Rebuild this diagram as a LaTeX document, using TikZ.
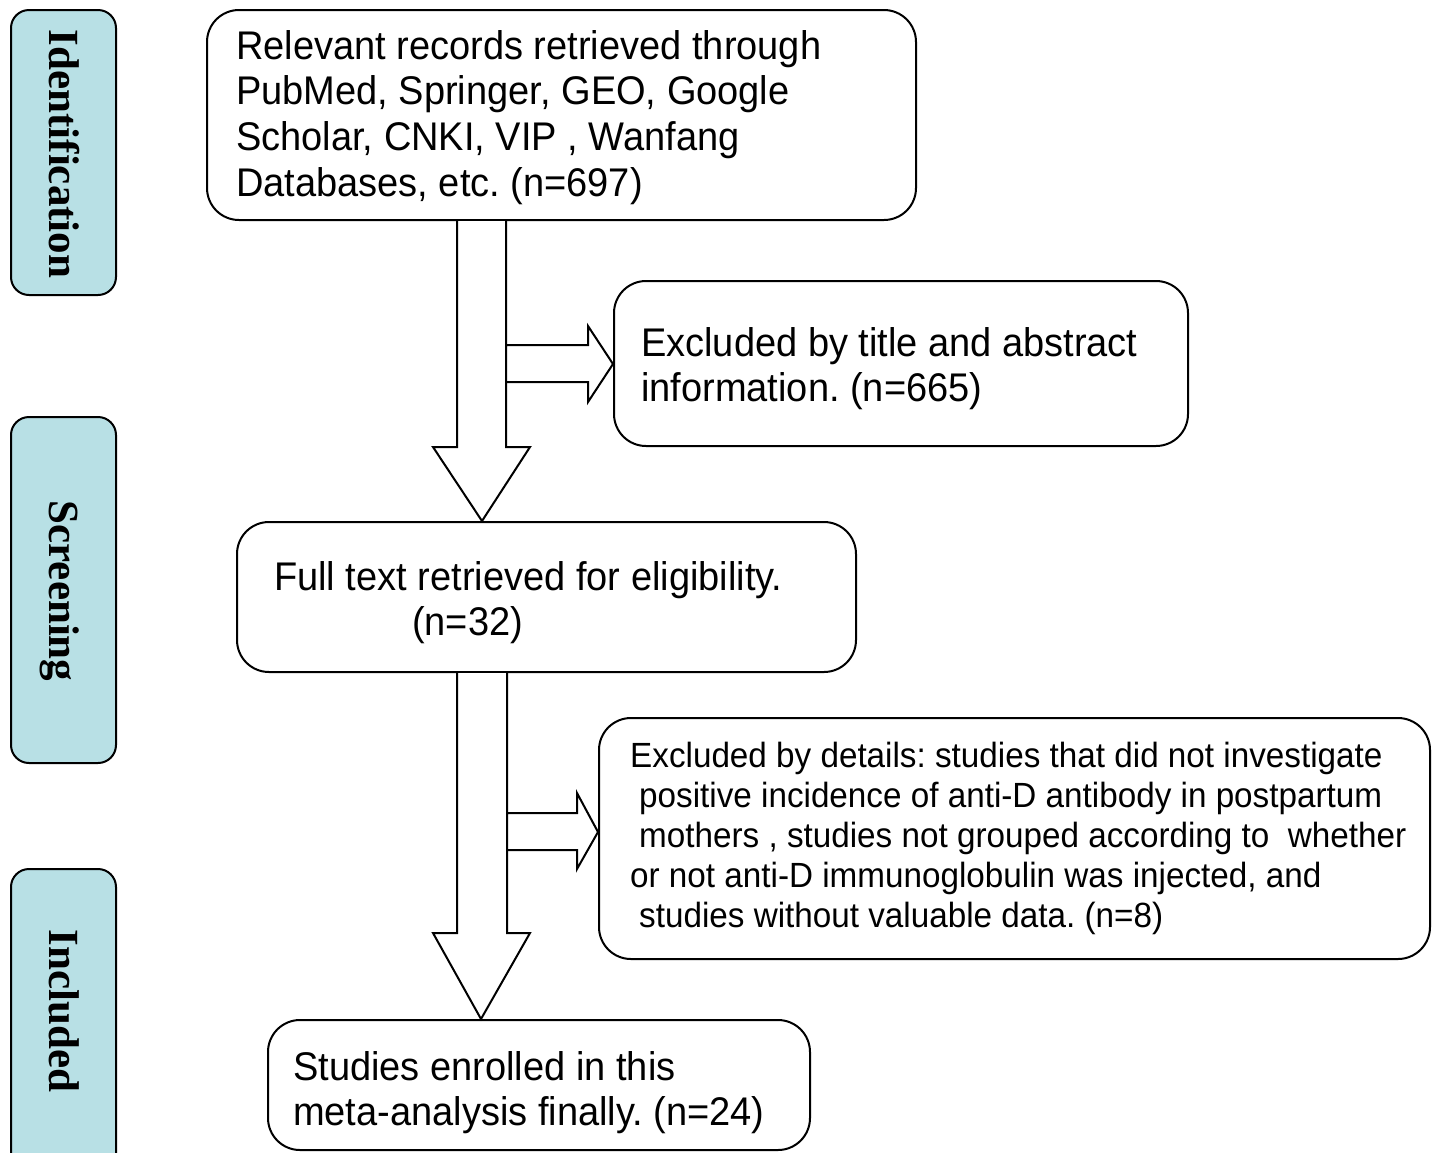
\documentclass[tikz,border=0pt]{standalone}
\usepackage{fontspec}
\setmainfont{Liberation Sans}
\newfontfamily\arialc[FakeStretch=0.95]{Liberation Sans}
\newfontfamily\timesf{Liberation Serif}
\definecolor{sidefill}{RGB}{184,224,229}
\frenchspacing
\begin{document}
\frenchspacing
\begin{tikzpicture}[x=1pt,y=-1pt,
 box/.style={draw, line width=2pt, rounded corners=32pt, inner sep=0pt},
 side/.style={draw, line width=2pt, fill=sidefill, rounded corners=18pt, minimum width=105pt, inner sep=0pt},
 sidetext/.style={rotate=-90, anchor=base, inner sep=0pt, font=\timesf\bfseries\fontsize{43}{50}\selectfont},
 txt/.style={anchor=north west, align=left, inner sep=0pt, font=\arialc\frenchspacing\fontsize{40}{45.7}\selectfont},
 txts/.style={anchor=north west, align=left, inner sep=0pt, font=\arialc\frenchspacing\fontsize{35}{40}\selectfont},
 blk/.style={draw, line width=2pt, fill=white, line join=miter}
]
\useasboundingbox (0,0) rectangle (1432,1152);
\clip (0,0) rectangle (1432,1152);

% side labels
\node[side, minimum height=285pt] (s1) at (63.5,152.5) {};
\node[side, minimum height=346pt] (s2) at (63.5,590) {};
\node[side, minimum height=311pt] (s3) at (63.5,1024.5) {};
\node[sidetext] (l1) at (49.5,154) {Identification};
\node[sidetext] (l2) at (49.5,591) {Screening};
\node[sidetext] (l3) at (49.5,1011) {Included};

% boxes
\node[box, minimum width=709pt, minimum height=210pt] (b1) at (561.5,115) {};
\node[box, minimum width=574pt, minimum height=165pt] (b2) at (901,363.5) {};
\node[box, minimum width=619pt, minimum height=150pt] (b3) at (546.5,597) {};
\node[box, minimum width=831pt, minimum height=241pt] (b4) at (1014.5,838.5) {};
\node[box, minimum width=542pt, minimum height=130pt] (b5) at (539,1085) {};

% texts
\node[txt] (t1) at (236,27) {\strut Relevant records retrieved through\\PubMed, Springer, GEO, Google\\Scholar, CNKI, VIP , Wanfang\\Databases, etc. (n=697)};
\node[txt] (t2) at (641,324) {\strut Excluded by title and abstract\\information. (n=665)};
\node[txt] (t3) at (274,558) {\strut Full text retrieved for eligibility.\\\hspace*{138pt}(n=32)};
\node[txts] (t4) at (630,739) {\strut Excluded by details: studies that did not investigate\\\hspace*{9pt}positive incidence of anti-D antibody in postpartum\\\hspace*{9pt}mothers , studies not grouped according to\ \ whether\\or not anti-D immunoglobulin was injected, and\\\hspace*{9pt}studies without valuable data. (n=8)};
\node[txt] (t5) at (293,1048) {\strut Studies enrolled in this\\meta-analysis finally. (n=24)};

% block arrows
\draw[blk] (457,0 |- b1.south) -- (457,447) -- (433,447) -- (482,0 |- b3.north) -- (530,447) -- (506,447) -- (506,0 |- b1.south);
\draw[blk] (506,345) -- (588,345) -- (588,326) -- (b2.west |- 0,364) -- (588,402) -- (588,382) -- (506,382) -- cycle;
\draw[blk] (457,0 |- b3.south) -- (457,933) -- (433,933) -- (481,0 |- b5.north) -- (530,933) -- (507,933) -- (507,0 |- b3.south);
\draw[blk] (507,813) -- (577,813) -- (577,793) -- (b4.west |- 0,832) -- (577,869) -- (577,850) -- (507,850) -- cycle;
\end{tikzpicture}
\end{document}
